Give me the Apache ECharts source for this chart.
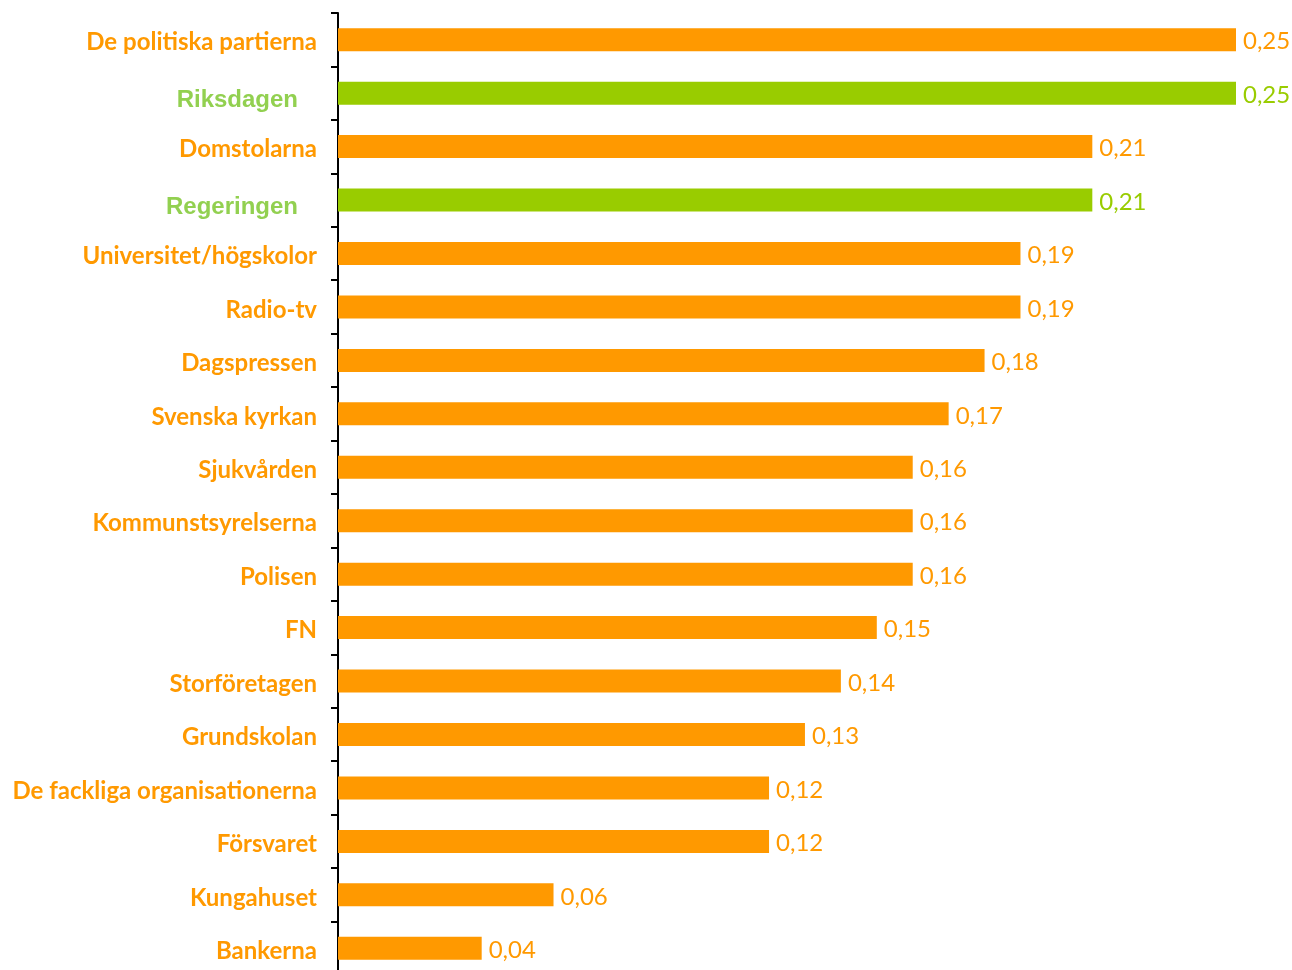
<!DOCTYPE html>
<html>
<head>
<meta charset="utf-8">
<script src="https://cdn.jsdelivr.net/npm/echarts@6/dist/echarts.min.js"></script>
<style>
  html, body { margin: 0; padding: 0; background: #fff; }
  #chart-div { width: 1292px; height: 970px; }
</style>
</head>
<body>
<div id="chart-div"></div>
<script>
// kategoriat ylhäältä alas
const categories = [
  'De politiska partierna', 'Riksdagen', 'Domstolarna', 'Regeringen',
  'Universitet/högskolor', 'Radio-tv', 'Dagspressen', 'Svenska kyrkan',
  'Sjukvården', 'Kommunstsyrelserna', 'Polisen', 'FN', 'Storföretagen',
  'Grundskolan', 'De fackliga organisationerna', 'Försvaret', 'Kungahuset', 'Bankerna'
]
const values = [0.25, 0.25, 0.21, 0.21, 0.19, 0.19, 0.18, 0.17, 0.16, 0.16, 0.16, 0.15, 0.14, 0.13, 0.12, 0.12, 0.06, 0.04]
// korostetut (vihreät) kategoriat
const highlighted = ['Riksdagen', 'Regeringen']

const orange = '#FF9900'
const green = '#99CC00'
const greenText = '#92D050'

let myChart = echarts.init(document.getElementById('chart-div'))

const option = {
  animation: false,
  grid: { left: 338, right: 56, top: 13, height: 962, outerBoundsMode: 'none', containLabel: false },
  xAxis: {
    type: 'value',
    min: 0,
    max: 0.25,
    show: false
  },
  yAxis: {
    type: 'category',
    data: categories,
    inverse: true,
    axisLine: { show: true, lineStyle: { color: '#000', width: 2 } },
    axisTick: { show: true, inside: false, length: 7, lineStyle: { color: '#000', width: 2 } },
    axisLabel: {
      margin: 21,
      formatter: name => highlighted.includes(name) ? `{g|${name}}` : `{o|${name}}`,
      rich: {
        o: { color: orange, fontFamily: 'Lato', fontWeight: 'bold', fontSize: 24, padding: [6, 0, 0, 0] },
        g: { color: greenText, fontFamily: 'Liberation Sans', fontWeight: 'bold', fontSize: 24, padding: [14, 19, 0, 0] }
      }
    }
  },
  series: [{
    type: 'bar',
    barWidth: 23,
    data: values.map((v, i) => ({
      value: v,
      itemStyle: { color: highlighted.includes(categories[i]) ? green : orange },
      label: { color: highlighted.includes(categories[i]) ? green : orange }
    })),
    label: {
      show: true,
      position: 'right',
      distance: 7,
      offset: [0, 2],
      fontFamily: 'Lato',
      fontSize: 24,
      formatter: p => p.value.toFixed(2).replace('.', ',')
    }
  }]
}

myChart.setOption(option)
</script>
</body>
</html>
